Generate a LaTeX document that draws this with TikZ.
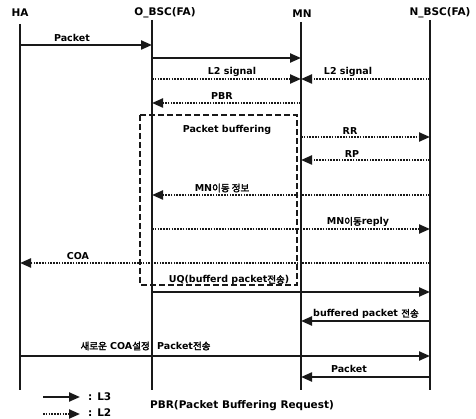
\documentclass[tikz,border=0pt]{standalone}
\usepackage{fontspec}
\setmainfont{DejaVu Sans}
\newfontfamily\kr{Noto Sans CJK KR}[AutoFakeBold=2.5]
\usetikzlibrary{arrows.meta}
\begin{document}
\begin{tikzpicture}[x=1pt,y=-1pt,
  lifeline/.style={line width=2.8pt,black!90},
  hdr/.style={font=\fontsize{10.5}{12}\selectfont\bfseries,inner sep=0pt},
  lbl/.style={font=\fontsize{9.5}{11}\selectfont\bfseries,inner sep=0pt},
  solidmsg/.style={line width=2.2pt,black!90,-{Triangle[length=11pt,width=9pt]}},
  dotmsg/.style={line width=2.2pt,black!90,dash pattern=on 1.6pt off 1.2pt,-{Triangle[length=11pt,width=9pt]}},
  bufbox/.style={line width=1.1pt,black!90,dash pattern=on 6pt off 3pt}]
\useasboundingbox (0,0) rectangle (476,419);
% headers
\node[hdr] (hHA) at (20,13) {HA};
\node[hdr] (hOB) at (165,13) {O\_BSC(FA)};
\node[hdr] (hMN) at (302,14) {MN};
\node[hdr] (hNB) at (440,13) {N\_BSC(FA)};
% lifelines
\coordinate (HAt) at (20,24); \coordinate (HAb) at (20,390);
\coordinate (OBt) at (152,20); \coordinate (OBb) at (152,390);
\coordinate (MNt) at (301,22); \coordinate (MNb) at (301,390);
\coordinate (NBt) at (430,20); \coordinate (NBb) at (430,390);
\draw[lifeline,line width=2pt] (HAt) -- (HAb);
\draw[lifeline] (OBt) -- (OBb);
\draw[lifeline] (MNt) -- (MNb);
\draw[lifeline] (NBt) -- (NBb);
% buffering box
\coordinate (bx1) at (140,115); \coordinate (bx2) at (297,285);
\draw[bufbox] (bx1) rectangle (bx2);
\node[lbl] (buf) at (227,130) {Packet buffering};
% message points
\foreach \n/\y in {1/45,2/58,3/79,4/103,6/137,7/160,8/195,9/229,10/263,11/292,12/321,13/356,14/377}{
  \coordinate (HA\n) at (20,\y);
  \coordinate (OB\n) at (152,\y);
  \coordinate (MN\n) at (301,\y);
  \coordinate (NB\n) at (430,\y);
}
\draw[solidmsg] (HA1) -- (OB1);
\node[lbl] (l1) at (72,38) {Packet};
\draw[solidmsg] (OB2) -- (MN2);
\draw[dotmsg] (OB3) -- (MN3);
\node[lbl] (l3a) at (232,72) {L2 signal};
\draw[dotmsg] (NB3) -- (MN3);
\node[lbl] (l3b) at (348,72) {L2 signal};
\draw[dotmsg] (MN4) -- (OB4);
\node[lbl] (l4) at (222,96) {PBR};
\draw[dotmsg] (MN6) -- (NB6);
\node[lbl] (l6) at (350,131) {RR};
\draw[dotmsg] (NB7) -- (MN7);
\node[lbl] (l7) at (352,154) {RP};
\draw[dotmsg] (NB8) -- (OB8);
\node[lbl] (l8) at (222,188) {MN{\kr 이동 정보}};
\draw[dotmsg] (OB9) -- (NB9);
\node[lbl] (l9) at (358,222) {MN{\kr 이동}reply};
\draw[dotmsg] (NB10) -- (HA10);
\node[lbl] (l10) at (78,256) {COA};
\draw[solidmsg] (OB11) -- (NB11);
\node[lbl,anchor=base] (l11) at (229,283) {UQ(bufferd packet{\kr 전송})};
\draw[solidmsg] (NB12) -- (MN12);
\node[lbl] (l12) at (366,314) {buffered packet {\kr 전송}};
\draw[solidmsg] (HA13) -- (NB13);
\node[lbl,anchor=east] (l13a) at (150,346) {{\kr 새로운} COA{\kr 설정}};
\node[lbl,anchor=west] (l13b) at (157,346) {Packet{\kr 전송}};
\draw[solidmsg] (NB14) -- (MN14);
\node[lbl] (l14) at (349,369) {Packet};
% legend
\coordinate (lg1s) at (43,397); \coordinate (lg1e) at (80,397);
\coordinate (lg2s) at (43,414); \coordinate (lg2e) at (80,414);
\draw[solidmsg] (lg1s) -- (lg1e);
\node[hdr,anchor=west] (lgt1) at (88,397) {: L3};
\draw[dotmsg] (lg2s) -- (lg2e);
\node[hdr,anchor=west] (lgt2) at (88,413) {: L2};
\node[hdr,anchor=west] (pbr) at (150,406) {PBR(Packet Buffering Request)};
\end{tikzpicture}
\end{document}
